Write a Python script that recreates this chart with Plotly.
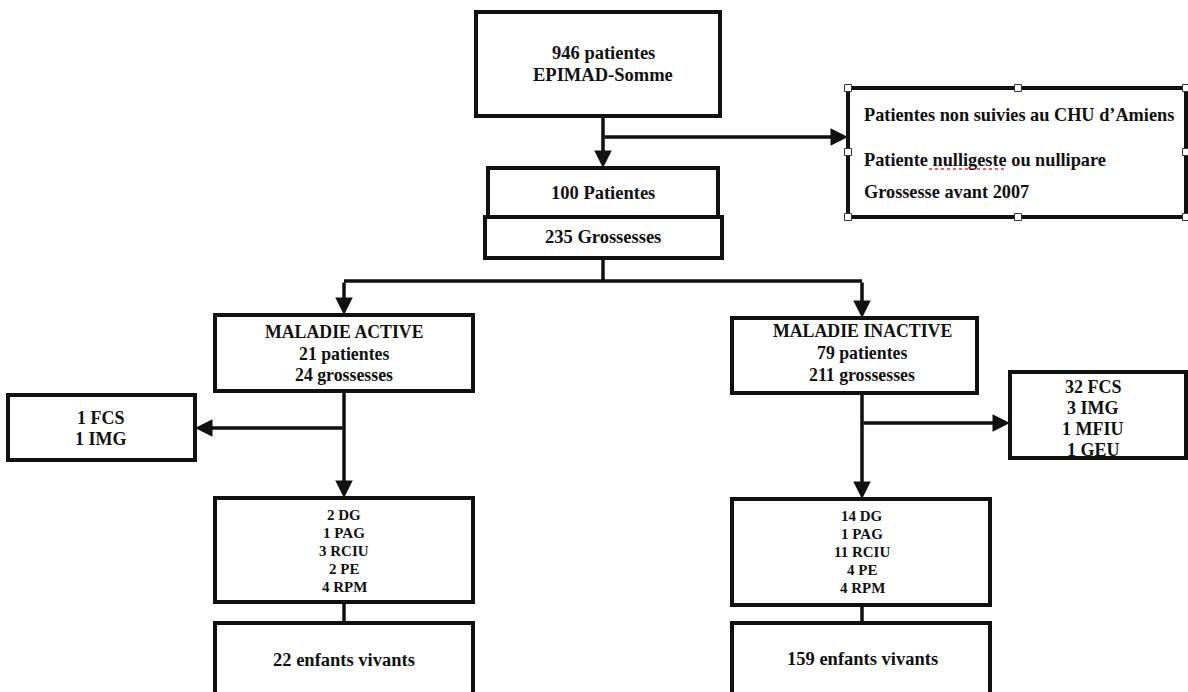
import plotly.graph_objects as go

# ---------------- content (text of the flowchart) ----------------
top_lines = ["946 patientes", "EPIMAD-Somme"]
excl_lines = ["Patientes non suivies au CHU d’Amiens",
              "Patiente nulligeste ou nullipare",
              "Grossesse avant 2007"]
cohort_patients = ["100 Patientes"]
cohort_pregnancies = ["235 Grossesses"]
active_lines = ["MALADIE ACTIVE", "21 patientes", "24 grossesses"]
inactive_lines = ["MALADIE INACTIVE", "79 patientes", "211 grossesses"]
active_losses = ["1 FCS", "1 IMG"]
inactive_losses = ["32 FCS", "3 IMG", "1 MFIU", "1 GEU"]
active_compl = ["2 DG", "1 PAG", "3 RCIU", "2 PE", "4 RPM"]
inactive_compl = ["14 DG", "1 PAG", "11 RCIU", "4 PE", "4 RPM"]
active_births = ["22 enfants vivants"]
inactive_births = ["159 enfants vivants"]

# ---------------- layout geometry (pixel-like data coords) ----------------
W, H = 1188, 692
INK = "#111111"
FONT = "Liberation Serif"

boxes = [
    dict(r=(476, 720, 12, 116), tx=603, ty=53, dy=22, fs=18.5, lines=top_lines),
    dict(r=(848, 1186, 88, 217), tx=862, ty=115, dy=[0, 45, 77], fs=18.3, lines=excl_lines, align="left"),
    dict(r=(488, 718, 168, 217), tx=603, ty=193, dy=22, fs=18.5, lines=cohort_patients),
    dict(r=(485, 722, 217, 258), tx=603, ty=237, dy=22, fs=18.5, lines=cohort_pregnancies),
    dict(r=(215, 473, 315, 391), tx=344, ty=332, dy=21.5, fs=17.8, lines=active_lines),
    dict(r=(732, 977, 318, 393), tx=862, ty=331, dy=22, fs=17.8, lines=inactive_lines),
    dict(r=(8, 195, 395, 460), tx=101, ty=418, dy=20.5, fs=18, lines=active_losses),
    dict(r=(1010, 1186, 372, 458), tx=1093, ty=387, dy=21, fs=18, lines=inactive_losses),
    dict(r=(215, 473, 498, 602), tx=344, ty=515, dy=18, fs=15, lines=active_compl),
    dict(r=(732, 990, 499, 605), tx=862, ty=516, dy=18, fs=15, lines=inactive_compl),
    dict(r=(215, 473, 623, 705), tx=344, ty=660, dy=22, fs=18.5, lines=active_births),
    dict(r=(732, 990, 623, 705), tx=862, ty=659, dy=22, fs=18.5, lines=inactive_births),
]

segments = [
    (603, 258, 603, 281),
    (344, 281, 862, 281),
    (344, 602, 344, 623),
    (862, 605, 862, 623),
]
arrows = [
    (603, 116, 603, 168),
    (603, 137, 848, 137),
    (344, 281, 344, 315),
    (862, 281, 862, 318),
    (344, 391, 344, 498),
    (344, 428, 195, 428),
    (862, 393, 862, 499),
    (862, 423, 1010, 423),
]
handles = [(848, 88), (1018, 88), (1186, 88), (848, 152), (1186, 152),
           (848, 217), (1018, 217), (1186, 217)]

fig = go.Figure()
fig.add_trace(go.Scatter(x=[0, W], y=[0, H], mode="markers",
                         marker=dict(opacity=0), hoverinfo="skip", showlegend=False))

shapes = []
annotations = []
for b in boxes:
    x0, x1, y0, y1 = b["r"]
    shapes.append(dict(type="rect", xref="x", yref="y", x0=x0, x1=x1, y0=y0, y1=y1,
                       line=dict(color=INK, width=4), fillcolor="white", layer="below"))
    dy = b["dy"]
    for i, txt in enumerate(b["lines"]):
        y = b["ty"] + (dy[i] if isinstance(dy, list) else i * dy)
        align = b.get("align", "center")
        annotations.append(dict(x=b["tx"], y=y, xref="x", yref="y", text="<b>" + txt + "</b>",
                                showarrow=False, xanchor="left" if align == "left" else "center",
                                yanchor="middle",
                                font=dict(family=FONT, size=b["fs"], color=INK)))

for (x0, y0, x1, y1) in segments:
    shapes.append(dict(type="line", xref="x", yref="y", x0=x0, y0=y0, x1=x1, y1=y1,
                       line=dict(color=INK, width=3.5)))

for (sx, sy, tx, ty) in arrows:
    annotations.append(dict(x=tx, y=ty, ax=sx, ay=sy, xref="x", yref="y", axref="x", ayref="y",
                            text="", showarrow=True, arrowhead=2, arrowsize=1.0,
                            arrowwidth=3.5, arrowcolor=INK, standoff=0, startstandoff=0))

for (hx, hy) in handles:
    shapes.append(dict(type="rect", xref="x", yref="y", x0=hx - 3.5, x1=hx + 3.5,
                       y0=hy - 3.5, y1=hy + 3.5, line=dict(color="#333333", width=1),
                       fillcolor="white"))

shapes.append(dict(type="line", xref="x", yref="y", x0=929, x1=1004, y0=169, y1=169,
                   line=dict(color="#e03030", width=1.5, dash="dot")))

fig.update_layout(
    width=W, height=H, margin=dict(l=0, r=0, t=0, b=0),
    paper_bgcolor="white", plot_bgcolor="white",
    shapes=shapes, annotations=annotations, showlegend=False,
    xaxis=dict(range=[0, W], visible=False, fixedrange=True),
    yaxis=dict(range=[H, 0], visible=False, fixedrange=True),
)
fig.write_html("out.html", config={"displayModeBar": False})

# remove the default page margin so the figure sits at the window origin
with open("out.html", "r", encoding="utf-8") as f:
    html = f.read()
html = html.replace("<head>", "<head><style>html,body{margin:0;padding:0;overflow:hidden;}</style>", 1)
with open("out.html", "w", encoding="utf-8") as f:
    f.write(html)
